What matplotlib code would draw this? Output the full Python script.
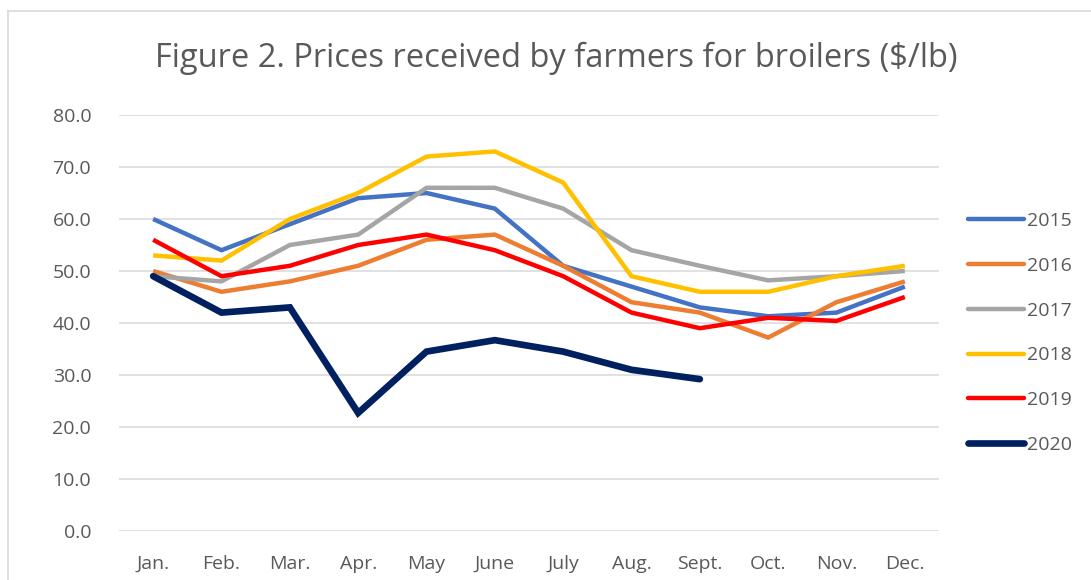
import matplotlib
matplotlib.use("Agg")
import matplotlib.pyplot as plt
from matplotlib.lines import Line2D

plt.rcParams['font.family'] = ['Open Sans', 'DejaVu Sans']

months = ["Jan.", "Feb.", "Mar.", "Apr.", "May", "June", "July",
          "Aug.", "Sept.", "Oct.", "Nov.", "Dec."]

p2015 = [60, 54, 59, 64, 65, 62, 51, 47, 43, 41.3, 42, 47]
p2016 = [50, 46, 48, 51, 56, 57, 51, 44, 42, 37.2, 44, 48]
p2017 = [49, 48, 55, 57, 66, 66, 62, 54, 51, 48.2, 49, 50]
p2018 = [53, 52, 60, 65, 72, 73, 67, 49, 46, 46, 49, 51]
p2019 = [56, 49, 51, 55, 57, 54, 49, 42, 39, 41, 40.4, 45]
p2020 = [49, 42, 43, 22.7, 34.5, 36.7, 34.5, 31, 29.2]

years = ["2015", "2016", "2017", "2018", "2019", "2020"]
series = [p2015, p2016, p2017, p2018, p2019, p2020]
colors = ["#4472C4", "#ED7D31", "#A5A5A5", "#FFC000", "#FF0000", "#002060"]
widths = [3.2, 3.2, 3.2, 3.2, 3.2, 4.8]

text_col = "#595959"
grid_col = "#D9D9D9"

W, H = 1091, 580
fig = plt.figure(figsize=(W / 100, H / 100), dpi=100)

# light frame at top/left like the exported Excel chart
fig.add_artist(Line2D([8 / W, 8 / W], [0, 1 - 11 / H], color=grid_col, lw=1.2))
fig.add_artist(Line2D([8 / W, 1], [1 - 11 / H, 1 - 11 / H], color=grid_col, lw=1.2))

ax = fig.add_axes([119 / W, 49 / H, 820 / W, 416 / H])

for name, vals, c, lw in zip(years, series, colors, widths):
    cap = 'round' if name == "2020" else 'butt'
    ax.plot(range(len(vals)), vals, color=c, lw=lw, label=name,
            solid_capstyle=cap, solid_joinstyle='miter')

ax.set_xlim(-0.5, len(months) - 0.5)
ax.set_ylim(0, 80)
ax.set_yticks(range(0, 81, 10))
ax.set_yticklabels([f"{v:.1f}" for v in range(0, 81, 10)])
ax.set_xticks(range(len(months)))
ax.set_xticklabels(months)

ax.grid(axis='y', color=grid_col, lw=1.1)
ax.set_axisbelow(True)
for s in ax.spines.values():
    s.set_visible(False)
ax.tick_params(axis='both', length=0, labelsize=14, colors=text_col)
ax.tick_params(axis='y', pad=20)
ax.tick_params(axis='x', pad=17)

fig.text(556 / W, 1 - 58 / H, "Figure 2. Prices received by farmers for broilers ($/lb)",
         ha='center', va='center', fontsize=23.5, color=text_col)

leg = ax.legend(loc='center left', bbox_to_anchor=(968 / W, 1 - 333 / H),
                bbox_transform=fig.transFigure, frameon=False, fontsize=14,
                handlelength=2.9, handletextpad=0.15, labelspacing=1.38,
                borderpad=0, borderaxespad=0)
for t in leg.get_texts():
    t.set_color(text_col)
for h in leg.get_lines():
    h.set_solid_capstyle('round')

fig.savefig("out.png", dpi=100)
